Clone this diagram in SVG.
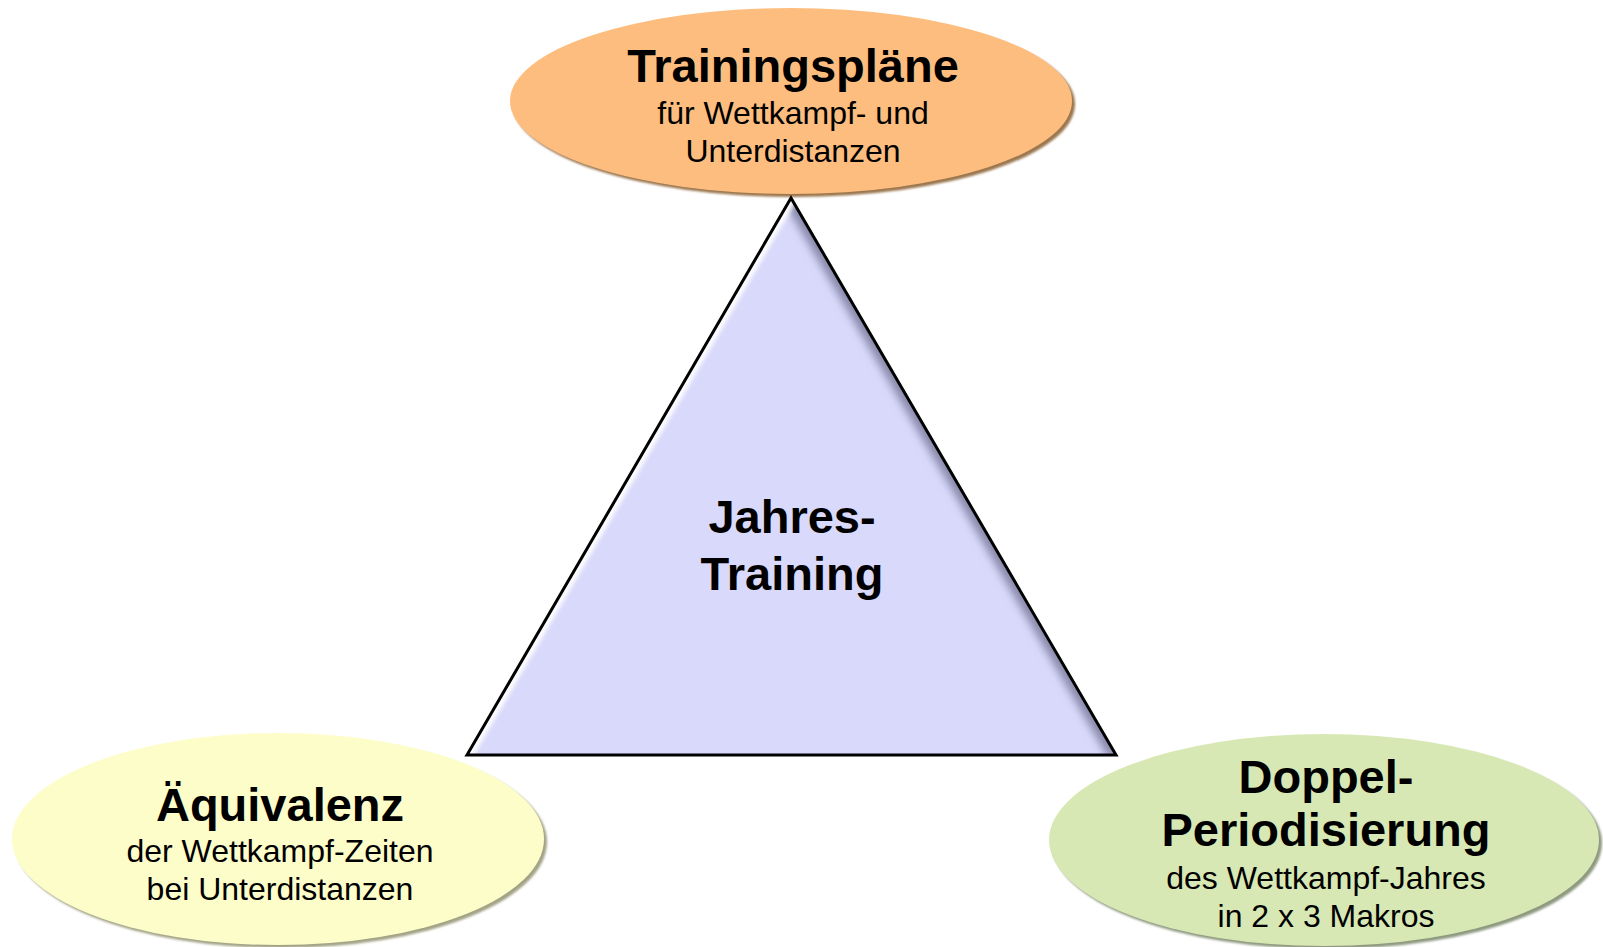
<svg xmlns="http://www.w3.org/2000/svg" width="1603" height="947" viewBox="0 0 1603 947">
<style>
  .title { font-family: "Liberation Sans", Arial, sans-serif; font-weight: bold; font-size: 47px; fill: #000; text-anchor: middle; }
  .sub { font-family: "Liberation Sans", Arial, sans-serif; font-size: 32px; fill: #000; text-anchor: middle; }
</style>
<defs>
  <filter id="soft" x="-5%" y="-5%" width="110%" height="110%">
    <feGaussianBlur stdDeviation="1.2"/>
  </filter>
  <filter id="blur6" x="-10%" y="-10%" width="120%" height="120%">
    <feGaussianBlur stdDeviation="4"/>
  </filter>
  <filter id="blur3" x="-10%" y="-10%" width="120%" height="120%">
    <feGaussianBlur stdDeviation="2"/>
  </filter>
  <clipPath id="triClip">
    <polygon points="791,198 467,755 1116,755"/>
  </clipPath>
</defs>
<rect width="1603" height="947" fill="#ffffff"/>

<g id="connectors"></g>

<g id="node-trainingsplaene">
  <ellipse cx="794" cy="104" rx="281" ry="93" fill="#9b774f" filter="url(#soft)"/>
  <ellipse cx="791" cy="101" rx="281" ry="93" fill="#fdbd7e"/>
  <text class="title" x="793" y="82">Trainingspläne</text>
  <text class="sub" x="793" y="124">für Wettkampf- und</text>
  <text class="sub" x="793" y="162">Unterdistanzen</text>
</g>

<g id="node-jahrestraining">
  <polygon points="791,198 467,755 1116,755" fill="#d9d9fb"/>
  <g clip-path="url(#triClip)">
    <polyline points="467,757 1116,757" fill="none" stroke="#66667f" stroke-width="24" filter="url(#blur6)"/>
    <polyline points="791,198 1116,755" fill="none" stroke="#8888aa" stroke-width="16" filter="url(#blur6)"/>
    <polyline points="791,198 467,755" fill="none" stroke="#ffffff" stroke-width="12" opacity="0.95" filter="url(#blur3)"/>
  </g>
  <polygon points="791,198 467,755 1116,755" fill="none" stroke="#000000" stroke-width="3" stroke-linejoin="miter"/>
  <text class="title" x="792" y="533">Jahres-</text>
  <text class="title" x="792" y="590">Training</text>
</g>

<g id="node-aequivalenz">
  <ellipse cx="281" cy="842" rx="266" ry="106" fill="#a3a386" filter="url(#soft)"/>
  <ellipse cx="278" cy="839" rx="266" ry="106" fill="#fdfdca"/>
  <text class="title" x="280" y="821">Äquivalenz</text>
  <text class="sub" x="280" y="862">der Wettkampf-Zeiten</text>
  <text class="sub" x="280" y="900">bei Unterdistanzen</text>
</g>

<g id="node-doppelperiodisierung">
  <ellipse cx="1327" cy="843" rx="275" ry="106" fill="#8e9a80" filter="url(#soft)"/>
  <ellipse cx="1324" cy="840" rx="275" ry="106" fill="#d7e8b4"/>
  <text class="title" x="1326" y="793">Doppel-</text>
  <text class="title" x="1326" y="846">Periodisierung</text>
  <text class="sub" x="1326" y="889">des Wettkampf-Jahres</text>
  <text class="sub" x="1326" y="927">in 2 x 3 Makros</text>
</g>
</svg>
